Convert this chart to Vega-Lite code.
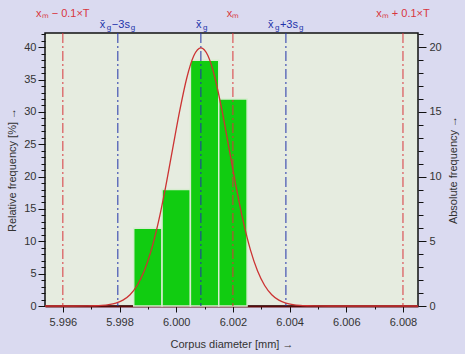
{
  "$schema": "https://vega.github.io/schema/vega-lite/v6.json",
  "width": 373,
  "height": 273,
  "autosize": {"type": "none"},
  "padding": {"left": 45, "top": 33, "right": 47, "bottom": 48},
  "background": "#dadaf0",
  "config": {
    "view": {"fill": "#e6ece0", "stroke": "#111111", "strokeWidth": 1.5},
    "font": "Liberation Sans",
    "axis": {"labelFont": "Liberation Sans", "titleFont": "Liberation Sans", "labelFontSize": 11, "titleFontSize": 11, "labelColor": "#333333", "titleColor": "#333333", "titleFontWeight": "normal", "tickColor": "#111111", "domain": false, "grid": false}
  },
  "datasets": {
    "bars": [
      {"x": 5.9985, "x_end": 5.9995, "count": 6},
      {"x": 5.9995, "x_end": 6.0005, "count": 9},
      {"x": 6.0005, "x_end": 6.0015, "count": 19},
      {"x": 6.0015, "x_end": 6.0025, "count": 16}
    ],
    "curve": [
      {"x": 5.99537, "pct": 0},
      {"x": 5.99587, "pct": 0},
      {"x": 5.99637, "pct": 0.002},
      {"x": 5.99687, "pct": 0.013},
      {"x": 5.99712, "pct": 0.035},
      {"x": 5.99737, "pct": 0.087},
      {"x": 5.99762, "pct": 0.203},
      {"x": 5.99787, "pct": 0.443},
      {"x": 5.99812, "pct": 0.91},
      {"x": 5.99837, "pct": 1.75},
      {"x": 5.99862, "pct": 3.17},
      {"x": 5.99887, "pct": 5.40},
      {"x": 5.99912, "pct": 8.63},
      {"x": 5.99937, "pct": 12.95},
      {"x": 5.99962, "pct": 18.26},
      {"x": 5.99987, "pct": 24.20},
      {"x": 6.00012, "pct": 30.11},
      {"x": 6.00037, "pct": 35.21},
      {"x": 6.00062, "pct": 38.67},
      {"x": 6.00087, "pct": 39.89},
      {"x": 6.00112, "pct": 38.67},
      {"x": 6.00137, "pct": 35.21},
      {"x": 6.00162, "pct": 30.11},
      {"x": 6.00187, "pct": 24.20},
      {"x": 6.00212, "pct": 18.26},
      {"x": 6.00237, "pct": 12.95},
      {"x": 6.00262, "pct": 8.63},
      {"x": 6.00287, "pct": 5.40},
      {"x": 6.00312, "pct": 3.17},
      {"x": 6.00337, "pct": 1.75},
      {"x": 6.00362, "pct": 0.91},
      {"x": 6.00387, "pct": 0.443},
      {"x": 6.00412, "pct": 0.203},
      {"x": 6.00437, "pct": 0.087},
      {"x": 6.00462, "pct": 0.035},
      {"x": 6.00487, "pct": 0.013},
      {"x": 6.00537, "pct": 0.002},
      {"x": 6.00587, "pct": 0},
      {"x": 6.00853, "pct": 0}
    ],
    "redlines": [
      {"x": 5.996, "label": "xₘ − 0.1×T"},
      {"x": 6.002, "label": "xₘ"},
      {"x": 6.008, "label": "xₘ + 0.1×T"}
    ],
    "bluepm": [
      {"x": 5.99794, "rest": "−3s"},
      {"x": 6.00387, "rest": "+3s"}
    ],
    "bluemean": [
      {"x": 6.00087}
    ]
  },
  "encoding": {
    "x": {
      "field": "x",
      "type": "quantitative",
      "scale": {"domain": [5.99537, 6.00853], "nice": false, "zero": false},
      "axis": {
        "title": "Corpus diameter [mm] →",
        "values": [5.996, 5.997, 5.998, 5.999, 6.0, 6.001, 6.002, 6.003, 6.004, 6.005, 6.006, 6.007, 6.008],
        "labelExpr": "round(datum.value*1000) % 2 == 0 ? format(datum.value, '.3f') : ''",
        "tickSize": {"condition": {"test": "round(datum.value*1000) % 2 == 0", "value": 6}, "value": 3},
        "labelPadding": 4,
        "titlePadding": 11,
        "domain": true,
        "domainColor": "#5a0a0a",
        "domainWidth": 2
      }
    }
  },
  "layer": [
    {
      "data": {"name": "bars"},
      "mark": {"type": "rect", "color": "#11cc11", "stroke": "#d8ecd0", "strokeWidth": 1.5},
      "encoding": {
        "x2": {"field": "x_end"},
        "y": {
          "field": "count",
          "type": "quantitative",
          "scale": {"domain": [0, 21.1], "nice": false},
          "axis": {
            "orient": "right",
            "title": "Absolute frequency →",
            "titleAngle": -90,
            "values": [0,1,2,3,4,5,6,7,8,9,10,11,12,13,14,15,16,17,18,19,20,21],
            "labelExpr": "datum.value % 5 === 0 ? datum.label : ''",
            "tickSize": {"condition": {"test": "datum.value % 5 === 0", "value": 8}, "value": 5},
            "labelPadding": 3,
            "titlePadding": 17
          }
        }
      }
    },
    {
      "data": {"name": "redlines"},
      "mark": {"type": "rule", "color": "#d8363e", "strokeWidth": 1, "strokeDash": [10, 3, 2, 3]},
      "encoding": {}
    },
    {
      "data": {"name": "bluepm"},
      "mark": {"type": "rule", "color": "#2233aa", "strokeWidth": 1, "strokeDash": [10, 3, 2, 3]},
      "encoding": {}
    },
    {
      "data": {"name": "bluemean"},
      "mark": {"type": "rule", "color": "#2233aa", "strokeWidth": 1, "strokeDash": [10, 3, 2, 3]},
      "encoding": {}
    },
    {
      "data": {"name": "curve"},
      "mark": {"type": "line", "color": "#cc3333", "strokeWidth": 1.3, "interpolate": "monotone"},
      "encoding": {
        "y": {
          "field": "pct",
          "type": "quantitative",
          "scale": {"domain": [0, 42.2], "nice": false},
          "axis": {
            "orient": "left",
            "title": "Relative frequency  [%] →",
            "values": [0,1,2,3,4,5,6,7,8,9,10,11,12,13,14,15,16,17,18,19,20,21,22,23,24,25,26,27,28,29,30,31,32,33,34,35,36,37,38,39,40,41,42],
            "labelExpr": "datum.value % 5 === 0 ? datum.label : ''",
            "tickSize": {"condition": {"test": "datum.value % 5 === 0", "value": 7}, "value": 4},
            "labelPadding": 2,
            "titlePadding": 6
          }
        }
      }
    },
    {
      "data": {"name": "redlines"},
      "mark": {"type": "text", "color": "#d8363e", "fontSize": 11, "align": "center", "baseline": "middle"},
      "encoding": {
        "y": {"datum": 45.1, "type": "quantitative", "scale": {"domain": [0, 42.2], "nice": false}, "axis": null},
        "text": {"field": "label"}
      }
    },
    {
      "data": {"name": "bluepm"},
      "mark": {"type": "text", "color": "#2233aa", "fontSize": 11, "align": "left", "baseline": "middle", "dx": -18},
      "encoding": {
        "y": {"datum": 43.4, "type": "quantitative", "scale": {"domain": [0, 42.2], "nice": false}, "axis": null},
        "text": {"value": "x̄"}
      }
    },
    {
      "data": {"name": "bluepm"},
      "mark": {"type": "text", "color": "#2233aa", "fontSize": 8, "align": "left", "baseline": "middle", "dx": -11, "dy": 3},
      "encoding": {
        "y": {"datum": 43.4, "type": "quantitative", "scale": {"domain": [0, 42.2], "nice": false}, "axis": null},
        "text": {"value": "g"}
      }
    },
    {
      "data": {"name": "bluepm"},
      "mark": {"type": "text", "color": "#2233aa", "fontSize": 11, "align": "left", "baseline": "middle", "dx": -6},
      "encoding": {
        "y": {"datum": 43.4, "type": "quantitative", "scale": {"domain": [0, 42.2], "nice": false}, "axis": null},
        "text": {"field": "rest"}
      }
    },
    {
      "data": {"name": "bluepm"},
      "mark": {"type": "text", "color": "#2233aa", "fontSize": 8, "align": "left", "baseline": "middle", "dx": 13, "dy": 3},
      "encoding": {
        "y": {"datum": 43.4, "type": "quantitative", "scale": {"domain": [0, 42.2], "nice": false}, "axis": null},
        "text": {"value": "g"}
      }
    },
    {
      "data": {"name": "bluemean"},
      "mark": {"type": "text", "color": "#2233aa", "fontSize": 11, "align": "left", "baseline": "middle", "dx": -5},
      "encoding": {
        "y": {"datum": 43.4, "type": "quantitative", "scale": {"domain": [0, 42.2], "nice": false}, "axis": null},
        "text": {"value": "x̄"}
      }
    },
    {
      "data": {"name": "bluemean"},
      "mark": {"type": "text", "color": "#2233aa", "fontSize": 8, "align": "left", "baseline": "middle", "dx": 2, "dy": 3},
      "encoding": {
        "y": {"datum": 43.4, "type": "quantitative", "scale": {"domain": [0, 42.2], "nice": false}, "axis": null},
        "text": {"value": "g"}
      }
    }
  ],
  "resolve": {"scale": {"y": "independent"}, "axis": {"y": "independent"}}
}
